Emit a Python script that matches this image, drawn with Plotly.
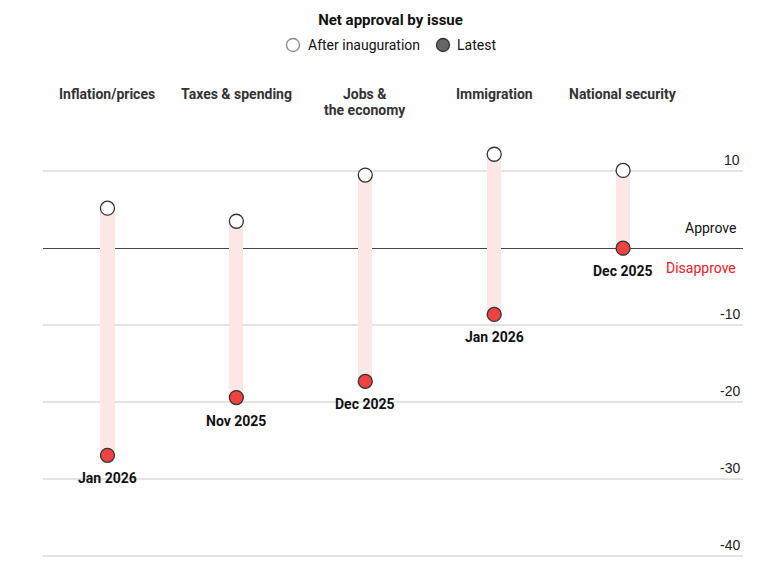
import plotly.graph_objects as go

categories = ["Inflation/prices", "Taxes & spending", "Jobs &<br>the economy", "Immigration", "National security"]
after_inauguration = [5.2, 3.5, 9.5, 12.2, 10.1]
latest = [-26.9, -19.4, -17.3, -8.6, 0.0]
latest_dates = ["Jan 2026", "Nov 2025", "Dec 2025", "Jan 2026", "Dec 2025"]
y_ticks = [10, -10, -20, -30, -40]
legend_labels = ["After inauguration", "Latest"]

FONT = "Roboto"
W, H = 765, 563
L, R, T, B = 35, 30, 117, 11
PW, PH = W - L - R, H - T - B

def px_x(p):
    return (p - L) / PW

def px_y(p):
    return 1 + (T - p) / PH

xs = list(range(len(categories)))

fig = go.Figure()

fig.add_trace(go.Bar(
    x=xs, y=[l - a for a, l in zip(after_inauguration, latest)], base=after_inauguration,
    width=0.11, marker=dict(color="#fde6e6", line=dict(width=0)),
    showlegend=False, hoverinfo="skip"))

fig.add_trace(go.Scatter(
    x=xs, y=after_inauguration, mode="markers",
    marker=dict(size=14, color="white", line=dict(color="#333333", width=1.3)),
    showlegend=False))
fig.add_trace(go.Scatter(
    x=xs, y=latest, mode="markers",
    marker=dict(size=14, color="#f04242", line=dict(color="#333333", width=1.3)),
    showlegend=False))

annotations = []
for i, c in enumerate(categories):
    for j, line in enumerate(c.split("<br>")):
        annotations.append(dict(x=i, y=1, xref="x", yref="paper", text=line, showarrow=False,
                                xanchor="center", yanchor="middle", yshift=31 - 16 * j,
                                font=dict(family=FONT, size=14, color="#333333", weight="bold")))
for i, (v, d) in enumerate(zip(latest, latest_dates)):
    annotations.append(dict(x=i, y=v, xref="x", yref="y", text=d, showarrow=False,
                            xanchor="center", yanchor="middle", yshift=-23,
                            font=dict(family=FONT, size=14, color="#111111", weight="bold")))
for t in y_ticks:
    annotations.append(dict(x=1, y=t, xref="paper", yref="y", text=str(t), showarrow=False,
                            xanchor="right", yanchor="middle", yshift=11, xshift=-1,
                            font=dict(family="Liberation Sans", size=14, color="#222222")))
annotations.append(dict(x=1, y=0, xref="paper", yref="y", text="Approve", showarrow=False,
                        xanchor="right", yanchor="middle", yshift=20, xshift=-5,
                        font=dict(family=FONT, size=14, color="#111111")))
annotations.append(dict(x=1, y=0, xref="paper", yref="y", text="Disapprove", showarrow=False,
                        xanchor="right", yanchor="middle", yshift=-20, xshift=-5,
                        font=dict(family=FONT, size=14, color="#e8201f")))

# manual legend
legend_circle_px = [285, 435]
legend_text_px = [298, 447]
legend_fill = ["white", "#666666"]
legend_line = ["#888888", "#333333"]
shapes = []
ly = px_y(37)
for cx, tx, lab, fc, lc in zip(legend_circle_px, legend_text_px, legend_labels, legend_fill, legend_line):
    shapes.append(dict(type="circle", xref="paper", yref="paper", xsizemode="pixel", ysizemode="pixel",
                       xanchor=px_x(cx), yanchor=ly, x0=-6.5, x1=6.5, y0=-6.5, y1=6.5,
                       fillcolor=fc, line=dict(color=lc, width=1.3)))
    annotations.append(dict(x=px_x(tx), y=ly, xref="paper", yref="paper", text=lab, showarrow=False,
                            xanchor="left", yanchor="middle",
                            font=dict(family=FONT, size=14, color="#111111")))

fig.update_layout(
    width=W, height=H,
    margin=dict(l=L, r=R, t=T, b=B),
    paper_bgcolor="white", plot_bgcolor="white",
    title=dict(text="Net approval by issue", x=0.5, xanchor="center", y=1 - 12 / H, yanchor="middle",
               font=dict(family=FONT, size=15, color="#111111", weight="bold")),
    showlegend=False,
    annotations=annotations,
    shapes=shapes,
    xaxis=dict(range=[-0.5, 4.93], showgrid=False, zeroline=False, showticklabels=False,
               fixedrange=True),
    yaxis=dict(range=[-40.5, 16], tickvals=[10, 0, -10, -20, -30, -40], showticklabels=False,
               gridcolor="#e3e3e3", gridwidth=1.5, zeroline=True, zerolinecolor="#444444",
               zerolinewidth=1.3, fixedrange=True),
    bargap=0,
)

fig.write_html("out.html")
